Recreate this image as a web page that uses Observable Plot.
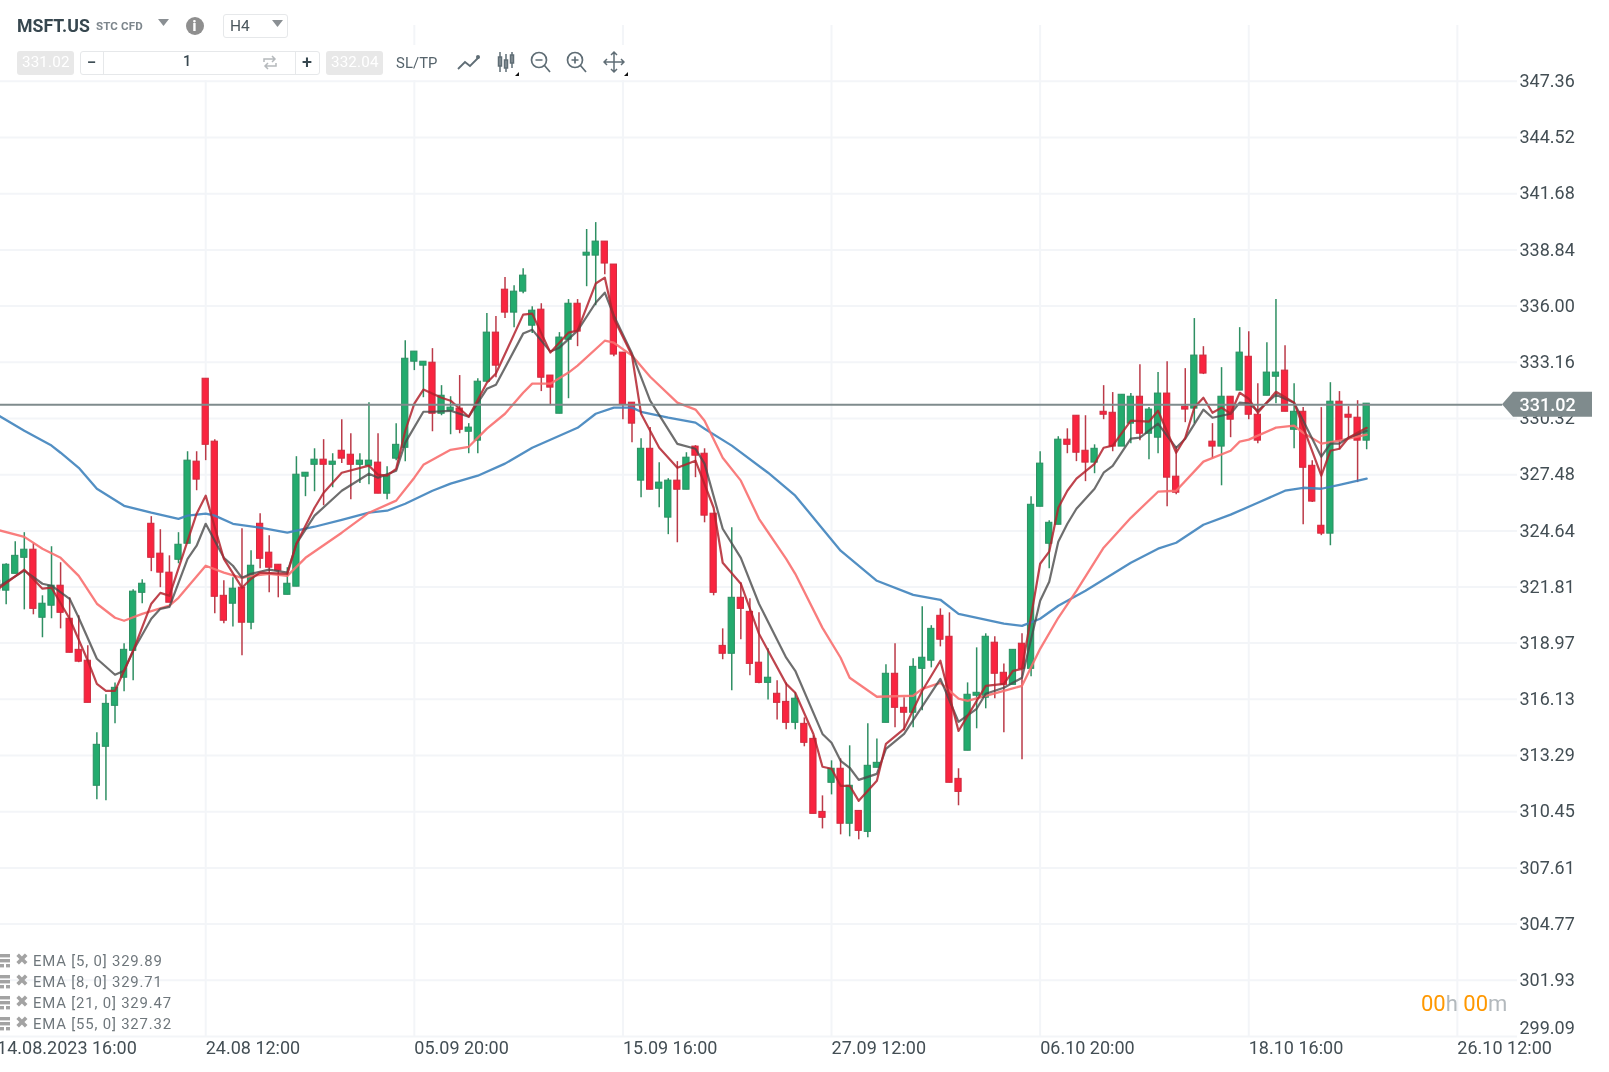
<!DOCTYPE html>
<html>
<head>
<meta charset="utf-8">
<script src="https://cdn.jsdelivr.net/npm/d3@7"></script>
<script src="https://cdn.jsdelivr.net/npm/@observablehq/plot@0.6"></script>
<style>
html,body{margin:0;padding:0;background:#fff;overflow:hidden;font-family:Roboto,sans-serif}
#wrap{position:relative;width:1609px;height:1072px;overflow:hidden;filter:blur(0.4px)}
#chart svg.plot{display:block;background:#fff}
#chart svg.plot g[aria-label="y-axis tick label"]{letter-spacing:1px}
#chart svg.plot g[aria-label="x-axis tick label"]{letter-spacing:.75px}
.lbl{position:absolute;white-space:nowrap;line-height:1;transform:translateY(-50%)}
.box{position:absolute;box-sizing:border-box}
</style>
</head>
<body>
<div id="wrap"><div id="chart"></div></div>
<script>
const highs=[322.37,322.98,324.09,324.55,323.99,321.36,323.84,323.03,321.26,320.35,
318.83,314.44,316.36,316.96,318.94,321.67,322.17,325.36,324.70,323.38,
324.55,328.64,328.64,332.33,329.25,322.12,322.27,324.75,323.64,325.51,
324.39,322.93,322.78,328.39,327.58,328.79,329.25,328.54,330.26,329.55,
328.54,331.12,329.55,327.88,330.06,334.25,333.70,333.19,333.85,331.98,
331.42,332.49,330.06,332.33,335.62,335.47,337.44,337.03,337.89,335.97,
336.12,332.49,334.66,336.33,336.33,339.87,340.22,339.26,338.10,333.65,
331.12,329.30,329.86,328.09,327.28,328.14,328.59,328.95,328.79,325.51,
319.69,324.80,322.02,321.21,320.50,318.68,317.07,316.96,316.46,315.19,
314.28,311.25,313.02,313.12,313.78,310.49,314.89,314.13,317.87,318.94,
316.21,318.18,320.81,319.85,320.70,320.50,312.62,316.96,318.73,319.44,
319.29,317.92,318.63,319.44,326.37,328.64,325.15,329.40,329.80,330.46,
330.46,328.99,331.98,331.63,331.52,331.58,333.04,330.87,332.64,333.19,
328.90,332.84,335.37,333.95,330.06,332.89,331.42,334.91,334.71,332.08,
334.15,336.33,334.00,332.08,330.87,328.19,330.87,332.13,331.68,330.92,
331.22,331.07];
const lows=[320.96,320.91,322.47,320.65,320.40,319.24,320.20,319.69,318.48,317.98,
315.95,311.05,311.00,314.89,316.51,317.07,320.96,322.58,321.77,321.01,
322.98,323.99,326.67,328.19,320.45,319.95,319.79,318.33,319.64,322.73,
321.51,321.26,321.41,321.82,326.37,326.62,325.91,326.82,328.04,326.22,
327.03,326.97,326.52,326.22,328.19,328.14,332.74,331.37,329.65,330.46,
329.50,329.55,328.54,328.54,332.13,332.38,335.37,334.91,336.63,334.61,
331.68,330.97,330.56,331.32,333.95,336.98,336.02,337.59,333.44,330.26,
329.10,326.32,326.72,325.81,324.45,324.04,326.72,327.33,325.05,321.36,
318.13,316.56,319.14,317.32,316.91,316.10,315.09,314.59,314.59,313.73,
310.34,309.58,311.30,309.28,309.18,309.03,309.13,312.67,314.94,314.69,
314.54,314.69,315.55,317.72,318.78,311.91,310.75,313.53,314.64,315.65,
316.16,314.44,316.86,313.07,317.27,325.86,322.73,324.95,328.54,328.14,
327.13,327.53,330.26,328.64,328.90,329.05,329.20,328.24,328.54,325.86,
326.47,330.11,330.06,332.54,328.29,326.92,329.35,331.73,330.26,329.05,
331.47,331.07,330.66,328.79,324.95,326.07,324.40,323.89,328.74,329.25,
327.08,328.74];
const opens=[321.62,321.62,322.47,323.28,323.69,320.25,320.86,321.87,320.20,318.63,
318.08,311.76,313.73,315.80,317.22,318.58,321.51,325.00,323.49,322.53,
323.18,323.99,328.14,332.33,329.15,321.36,320.96,321.77,320.00,325.00,
323.54,322.93,321.41,321.82,327.38,327.98,328.24,327.98,328.69,328.49,
327.98,327.93,328.09,326.52,328.29,328.84,333.19,332.99,333.14,330.56,
330.71,330.82,329.65,329.20,332.18,334.66,336.83,335.67,336.73,335.01,
335.82,332.49,330.56,334.30,336.12,338.55,338.55,339.26,338.10,333.65,
331.12,327.18,328.79,326.77,325.31,327.18,326.72,328.90,328.54,325.51,
318.83,318.43,321.26,320.55,317.98,316.96,316.41,316.00,314.94,314.89,
314.13,310.44,311.91,312.62,309.84,310.49,309.43,312.67,314.94,317.42,
315.70,315.45,317.67,318.08,320.35,319.29,312.11,313.53,316.31,316.21,
318.99,317.47,316.86,318.94,317.67,325.86,323.99,324.95,329.25,330.46,
328.69,328.09,330.66,330.61,328.90,330.06,331.42,329.55,329.35,331.58,
327.38,330.92,330.82,333.50,329.15,328.90,331.42,331.73,333.44,330.51,
331.47,332.43,332.74,329.75,330.66,327.93,324.90,324.50,331.17,330.51,
330.36,329.20];
const closes=[322.12,322.93,323.38,323.69,320.70,320.96,321.87,320.50,318.48,318.03,
315.95,313.83,315.90,316.71,318.63,321.57,321.97,323.28,322.53,321.01,
323.94,328.19,327.23,328.99,321.31,320.10,321.72,320.00,322.88,323.23,
322.78,322.63,321.97,327.48,327.58,328.24,327.98,328.14,328.29,327.98,
328.19,328.19,326.52,327.43,328.99,333.34,333.70,333.19,330.56,331.47,
330.87,329.75,329.86,332.18,334.66,332.99,335.67,336.73,337.54,335.77,
332.38,331.88,334.41,336.12,334.71,338.70,339.26,338.15,333.55,331.02,
330.06,328.79,326.72,327.08,327.18,326.72,328.34,328.44,325.41,321.51,
318.43,321.26,320.70,317.92,316.96,317.22,315.95,314.94,316.16,313.93,
310.34,310.14,312.62,309.84,311.76,309.48,312.77,312.92,317.42,315.70,
315.45,317.77,318.23,319.69,319.14,311.91,311.45,316.36,316.46,319.29,
317.42,316.86,318.63,317.67,325.96,328.04,325.05,329.25,328.99,328.59,
328.09,328.79,330.51,328.90,331.52,331.42,329.55,330.77,331.58,327.33,
326.57,330.77,333.50,332.59,328.90,331.42,330.26,333.65,330.51,329.20,
332.64,332.64,330.66,330.66,327.83,326.12,324.50,331.17,329.20,330.36,
329.20,331.07];

const ema5Idx=[0,3,5,6,8,10,11,12,13,15,17,18,19,21,22,23,25,27,28,29,32,33,35,36,38,41,42,43,44,45,46,47,49,50,52,54,55,58,59,61,63,64,66,67,68,70,71,73,75,77,79,80,82,84,87,88,90,91,92,93,94,95,97,98,100,102,104,106,109,111,112,113,115,116,117,118,119,121,122,123,125,127,128,130,131,132,133,134,135,136,137,138,139,141,143,146,147,148,149,151];
const ema5=[321.67,322.68,321.72,321.77,320.20,318.08,316.91,316.56,316.56,318.58,320.96,321.51,321.36,324.14,325.51,326.42,323.23,321.77,322.22,322.53,322.47,323.99,325.81,326.57,327.58,327.94,327.48,327.43,327.78,329.70,331.07,331.78,331.37,331.22,330.41,332.13,332.59,335.57,335.62,333.65,334.66,334.76,337.14,337.44,335.37,333.50,330.56,328.84,327.83,328.19,325.81,323.03,321.97,319.44,316.91,316.46,314.38,312.72,312.62,311.76,311.76,311.00,312.01,313.88,314.64,316.56,318.08,314.53,316.81,316.91,317.57,317.67,322.98,323.59,325.81,326.67,327.28,328.03,328.84,328.95,330.21,330.16,330.71,328.59,329.35,330.87,331.37,330.61,330.87,330.56,331.62,331.32,330.61,331.67,331.12,327.43,328.69,328.79,329.35,329.85];

const ema8Idx=[0,3,5,6,8,9,11,13,14,15,17,18,19,21,22,23,25,26,27,28,30,32,33,35,38,41,42,44,45,47,48,50,52,54,55,58,59,61,62,64,66,67,68,70,72,75,77,78,80,82,84,87,88,91,92,93,94,95,97,98,100,104,106,108,109,111,113,115,116,117,118,119,121,122,123,125,126,128,130,131,133,134,136,137,138,139,141,143,146,147,148,149,151];
const ema8=[321.77,322.63,321.97,321.87,321.21,320.25,318.18,317.37,317.57,318.58,320.20,320.70,320.80,323.23,323.89,325.00,323.28,322.88,322.27,322.47,322.68,322.53,323.99,325.41,326.67,327.53,327.33,327.68,329.10,330.66,330.66,330.71,330.41,331.82,332.03,334.61,334.81,333.70,333.90,334.76,336.17,336.68,335.52,333.60,331.22,329.04,328.79,328.04,324.75,323.28,320.96,318.23,317.57,314.38,313.93,313.02,312.67,312.06,312.36,313.63,314.38,317.16,314.99,315.65,316.41,316.71,317.22,321.11,322.07,324.09,325.00,325.76,326.77,327.58,327.93,329.30,329.35,330.06,328.84,329.30,330.77,330.36,330.56,331.12,331.07,330.71,331.52,331.12,328.39,329.05,329.05,329.35,329.70];

const ema21Idx=[0,3,5,7,9,11,13,14,16,19,20,23,25,27,28,30,32,34,38,41,44,46,47,50,52,54,56,58,59,61,63,64,67,68,70,72,75,77,78,80,82,84,87,88,91,93,94,97,101,102,104,106,107,111,113,115,117,119,122,125,128,130,133,136,137,138,141,143,144,146,148,151];
const ema21=[324.70,324.34,323.74,323.28,322.37,320.96,320.25,320.10,320.45,320.86,321.26,322.88,322.53,322.27,322.37,322.47,322.37,323.28,324.55,325.56,326.17,327.33,327.98,328.74,328.89,329.81,330.56,331.62,332.08,332.08,332.64,332.99,334.25,334.15,333.50,332.43,331.12,330.77,330.21,328.34,327.18,325.25,323.23,322.47,319.74,318.23,317.22,316.26,316.31,316.66,316.96,316.16,316.05,316.56,316.81,318.68,320.25,321.61,323.79,325.30,326.62,326.67,328.14,328.69,329.15,329.25,329.86,329.96,329.60,329.05,329.20,329.50];

const ema55Idx=[0,3,6,7,9,11,14,17,20,21,23,24,26,29,32,35,38,41,43,45,48,50,53,56,59,61,64,66,68,70,71,74,77,78,81,85,88,91,93,97,101,104,106,111,113,115,117,120,125,128,130,133,136,139,142,144,146,148,151];
const ema55=[330.51,329.70,328.95,328.59,327.83,326.77,325.91,325.56,325.25,325.41,325.51,325.41,325.00,324.80,324.55,324.85,325.20,325.56,325.66,326.01,326.67,327.03,327.43,328.04,328.84,329.25,329.85,330.56,330.87,330.87,330.66,330.36,330.11,329.80,328.95,327.58,326.42,324.75,323.64,322.12,321.41,321.16,320.45,319.95,319.84,320.20,320.86,321.62,323.03,323.74,324.04,324.95,325.46,326.06,326.67,326.82,326.77,326.97,327.28];

const priceTicks=[347.36,344.52,341.68,338.84,336.00,333.16,330.32,327.48,324.64,321.81,318.97,316.13,313.29,310.45,307.61,304.77,301.93,299.09];
const dateIdx=[0,23,46,69,92,115,138,161];
const dateLabels=["14.08.2023 16:00","24.08 12:00","05.09 20:00","15.09 16:00","27.09 12:00","06.10 20:00","18.10 16:00","26.10 12:00"];
const lastPrice=331.02;
const legendNames=["EMA [5, 0] 329.89","EMA [8, 0] 329.71","EMA [21, 0] 329.47","EMA [55, 0] 327.32"];

const candles=highs.map((h,i)=>({k:i,h,l:lows[i],o:opens[i],c:closes[i],up:closes[i]>=opens[i]}));
const line=(idx,vals)=>idx.map((k,i)=>({k,v:vals[i]}));
const axisColor="#434e54";

function priceTag(index,{y},values,{width}){
  const py=y(lastPrice);
  return d3.create("svg:path")
    .attr("d",`M1502 ${py} L1513 ${py-12.5} H1592 V${py+12.5} H1513 Z`)
    .attr("fill","#7f8b8d").node();
}

const hw=0.345;
const chart=Plot.plot({
  width:1609,height:1072,
  marginLeft:0,marginRight:92,marginTop:25,marginBottom:36,
  style:{fontFamily:"Roboto, sans-serif",background:"#fff"},
  x:{type:"linear",domain:[0.375,167.63],axis:null},
  y:{type:"linear",domain:[299.09,350.18],axis:null},
  marks:[
    Plot.ruleY(priceTicks,{stroke:"#f3f5f8",strokeWidth:2}),
    Plot.ruleX(dateIdx,{stroke:"#f3f5f8",strokeWidth:2}),
    Plot.ruleX(candles,{x:"k",y1:"l",y2:"h",stroke:d=>d.up?"#2f8f63":"#bb3a48",strokeWidth:1.5}),
    Plot.rect(candles,{x1:d=>d.k-hw,x2:d=>d.k+hw,y1:"o",y2:"c",fill:d=>d.up?"#23ab6e":"#f9243f",stroke:d=>d.up?"#2b8f62":"#cf2b3e",strokeWidth:1}),
    Plot.line(line(ema55Idx,ema55),{x:"k",y:"v",stroke:"#3f83bd",strokeWidth:2.3,strokeOpacity:.9,curve:"linear"}),
    Plot.line(line(ema21Idx,ema21),{x:"k",y:"v",stroke:"#f86f6f",strokeWidth:2.3,strokeOpacity:.9,curve:"linear"}),
    Plot.line(line(ema8Idx,ema8),{x:"k",y:"v",stroke:"#4a4a4a",strokeWidth:2.2,strokeOpacity:.8,curve:"linear"}),
    Plot.line(line(ema5Idx,ema5),{x:"k",y:"v",stroke:"#b3232e",strokeWidth:2.2,strokeOpacity:.85,curve:"linear"}),
    Plot.ruleY([lastPrice],{x1:0.375,x2:166,stroke:"#7f8b8d",strokeWidth:2}),
    Plot.axisY(priceTicks.slice(0,-1),{anchor:"right",tickSize:0,tickPadding:2,tickFormat:d=>d.toFixed(2),fontSize:18,fill:axisColor,textAnchor:"start",label:null}),
    Plot.axisY(priceTicks.slice(-1),{anchor:"right",tickSize:0,tickPadding:2,tickFormat:d=>d.toFixed(2),fontSize:18,fill:axisColor,textAnchor:"start",label:null,dy:-8}),
    priceTag,
    Plot.axisY([lastPrice],{anchor:"right",tickSize:0,tickPadding:2,tickFormat:d=>d.toFixed(2),fontSize:18,fontWeight:500,fill:"#fff",textAnchor:"start",label:null,dy:1}),
    Plot.axisX(dateIdx,{anchor:"bottom",tickSize:0,tickPadding:5,tickFormat:k=>dateLabels[dateIdx.indexOf(k)],fontSize:18,fill:axisColor,textAnchor:"start",label:null})
  ]
});
document.getElementById("chart").appendChild(chart);

// chrome: toolbar, legend, countdown
const wrap=document.getElementById("wrap");
function box(x,y,w,h,css){const d=document.createElement("div");d.className="box";d.style.cssText=`left:${x}px;top:${y}px;width:${w}px;height:${h}px;${css||""}`;wrap.appendChild(d);return d;}
function txt(s,x,cy,size,color,weight,extra){const d=document.createElement("div");d.className="lbl";d.textContent=s;d.style.cssText=`left:${x}px;top:${cy}px;font-size:${size}px;color:${color};font-weight:${weight||400};${extra||""}`;wrap.appendChild(d);return d;}
function icon(x,y,w,h,inner){const n=document.createElementNS("http://www.w3.org/2000/svg","svg");n.setAttribute("width",w);n.setAttribute("height",h);n.setAttribute("viewBox",`0 0 ${w} ${h}`);n.style.cssText=`position:absolute;left:${x}px;top:${y}px`;n.innerHTML=inner;wrap.appendChild(n);return n;}

box(0,0,300,45,"background:#fff");
box(0,45,640,35,"background:#fff");
txt("MSFT.US",17,26.5,17.7,"#37474f",700);
txt("STC CFD",96,26.5,11.5,"#7d868c",700,"letter-spacing:.15px");
icon(157,18,13,9,'<path d="M1 1H12L6.5 8Z" fill="#8a8f93"/>');
box(186,17,18,18,"background:#8f8f8f;border-radius:50%");
txt("i",192.5,26,14,"#fff",900);
box(223,14,65,24,"border:1px solid #e6e8ea;border-radius:3px;background:#fff");
txt("H4",230,27,15.5,"#4a565c",400);
icon(271,19,13,9,'<path d="M1 1H12L6.5 8Z" fill="#8a8f93"/>');
box(17,51,57,24,"background:#e8e8e8;border-radius:3px");
txt("331.02",22,63,15.2,"#fff",400,"letter-spacing:.15px");
box(80,51,240,24,"border:1px solid #e6e8ea;border-radius:3px;background:#fff");
box(103,52,1,22,"background:#e6e8ea");
box(295,52,1,22,"background:#e6e8ea");
txt("−",87,62,17,"#37474f",500);
txt("+",302,62,18,"#37474f",500);
txt("1",183,62,14.5,"#37474f",500);
icon(262,54,16,17,'<g fill="none" stroke="#b5b9bc" stroke-width="1.5"><path d="M2 8V5H13M10 2L13 5L10 8"/><path d="M14 9V12H3M6 9L3 12L6 15"/></g>');
box(326,51,57,24,"background:#e8e8e8;border-radius:3px");
txt("332.04",331,63,15.2,"#fff",400,"letter-spacing:.15px");
txt("SL/TP",396,62.5,14.8,"#55636b",400,"letter-spacing:.1px");
const ic="#5f6d75";
icon(457,52,24,20,`<path d="M1 17L8 10L13 14L22 5" fill="none" stroke="${ic}" stroke-width="1.8"/><circle cx="21" cy="5" r="2" fill="${ic}"/>`);
icon(496,50,20,24,`<g stroke="${ic}" fill="none" stroke-width="1.5"><path d="M4 2V22M10 4V22M16 2V18"/><rect x="2.5" y="7" width="3" height="9"/><rect x="8.5" y="10" width="3" height="8"/><rect x="14.5" y="5" width="3" height="8"/></g>`);
icon(530,50,22,24,`<g stroke="${ic}" fill="none" stroke-width="1.7"><circle cx="9" cy="10" r="7.5"/><path d="M14.5 15.5L20 22M5.5 10H12.5"/></g>`);
icon(566,50,22,24,`<g stroke="${ic}" fill="none" stroke-width="1.7"><circle cx="9" cy="10" r="7.5"/><path d="M14.5 15.5L20 22M5.5 10H12.5M9 6.5V13.5"/></g>`);
icon(603,50,22,24,`<g stroke="${ic}" fill="none" stroke-width="1.5"><path d="M11 2V22M1 12H21M8 5L11 2L14 5M8 19L11 22L14 19M4 9L1 12L4 15M18 9L21 12L18 15"/></g>`);
icon(515,72,4,4,'<path d="M4 0V4H0Z" fill="#111"/>');
icon(624,72,4,4,'<path d="M4 0V4H0Z" fill="#111"/>');

const legendY=[961,982,1002.5,1023.5];
legendNames.forEach((s,i)=>{
  const cy=legendY[i];
  icon(0,cy-8,10,15,'<g fill="#a3a3a3"><rect x="0" y="1" width="10" height="3.4"/><rect x="0" y="6" width="10" height="3.4"/><rect x="0" y="11" width="4" height="3.4"/><rect x="6" y="11" width="4" height="3.4"/></g>');
  txt("✖",15,cy-1,16.5,"#a3a3a3",400,"font-family:'DejaVu Sans',sans-serif");
  txt(s,33,cy,14.9,"#6f777c",400,"letter-spacing:.82px");
});

const cd=txt("",1421,1004,22,"#b3b9bd",400);
cd.innerHTML='<span style="color:#ff9800">00</span>h <span style="color:#ff9800">00</span>m';
</script>
</body>
</html>
